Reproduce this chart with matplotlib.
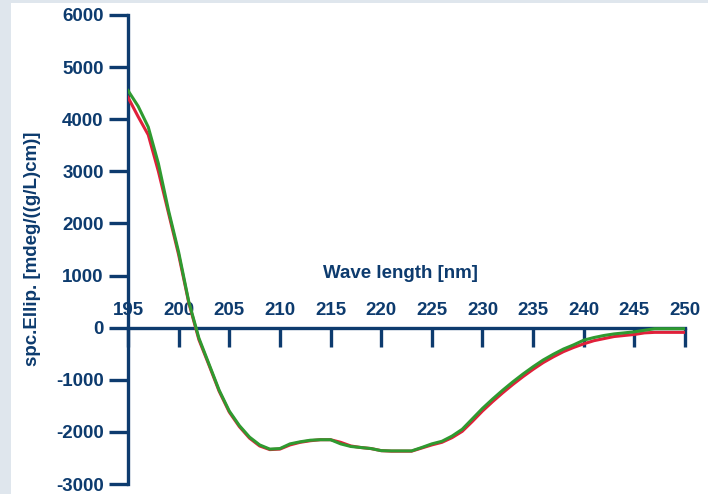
import numpy as np
import matplotlib.pyplot as plt
from matplotlib.patches import Rectangle

# wavelength grid (nm)
wavelength = list(range(195, 251))

# CD spectra, mdeg/((g/L)cm)
red_values = [4420, 4050, 3700, 3000, 2200, 1400, 480, -230, -720, -1220,
              -1620, -1900, -2120, -2270, -2340, -2330, -2250, -2200, -2170, -2150,
              -2150, -2200, -2270, -2300, -2320, -2360, -2370, -2370, -2370, -2310,
              -2250, -2200, -2110, -1990, -1800, -1600, -1420, -1250, -1090, -940,
              -800, -670, -560, -460, -380, -310, -250, -210, -170, -150,
              -130, -100, -90, -90, -90, -90]
green_values = [4550, 4250, 3850, 3150, 2250, 1450, 500, -200, -700, -1200,
                -1600, -1880, -2100, -2250, -2330, -2320, -2230, -2190, -2160, -2150,
                -2150, -2230, -2280, -2300, -2320, -2360, -2365, -2365, -2365, -2300,
                -2230, -2180, -2080, -1950, -1750, -1550, -1370, -1200, -1040, -890,
                -750, -620, -510, -410, -330, -240, -190, -150, -120, -100,
                -80, -50, -20, -20, -20, -20]

x_ticks = [195, 200, 205, 210, 215, 220, 225, 230, 235, 240, 245, 250]
y_ticks = [-3000, -2000, -1000, 0, 1000, 2000, 3000, 4000, 5000, 6000]

navy = "#0d3b6e"
plt.rcParams["font.family"] = ["Liberation Sans", "DejaVu Sans"]
plt.rcParams["font.weight"] = "bold"
plt.rcParams["axes.unicode_minus"] = False

fig = plt.figure(figsize=(7.08, 4.94), dpi=100)
fig.patch.set_facecolor("#dfe6ed")
fig.patches.append(Rectangle((11 / 708, 0), 1, 1 - 3 / 494, transform=fig.transFigure,
                             facecolor="white", edgecolor="none", zorder=-5))

ax = fig.add_axes([128 / 708, 10 / 494, 557 / 708, 469 / 494])
ax.set_facecolor("none")

ax.plot(wavelength, red_values, color="#e0203a", lw=2.2, zorder=3)
ax.plot(wavelength, green_values, color="#2f9a30", lw=2.2, zorder=4)

ax.set_xlim(195, 250)
ax.set_ylim(-3000, 6000)

for s in ["top", "right"]:
    ax.spines[s].set_visible(False)
ax.spines["left"].set_color(navy)
ax.spines["left"].set_linewidth(2.4)
ax.spines["bottom"].set_position(("data", 0))
ax.spines["bottom"].set_color(navy)
ax.spines["bottom"].set_linewidth(2.4)

ax.set_xticks(x_ticks)
ax.set_yticks(y_ticks)
ax.tick_params(axis="y", direction="out", length=14, width=2.4, color=navy,
               labelcolor=navy, labelsize=13.5, pad=3.5)
ax.tick_params(axis="x", direction="out", length=13.5, width=2.4, color=navy,
               labelcolor=navy, labelsize=13.5, pad=-32)
for lab in ax.get_xticklabels() + ax.get_yticklabels():
    lab.set_fontweight("bold")

fig.text(400 / 708, 1 - 273 / 494, "Wave length [nm]", color=navy, fontsize=13.5,
         fontweight="bold", ha="center", va="center")
fig.text(33 / 708, 1 - 249 / 494, "spc.Ellip. [mdeg/((g/L)cm)]", color=navy,
         fontsize=13.5, fontweight="bold", rotation=90, ha="center", va="center")

fig.savefig("out.png", dpi=100, facecolor=fig.get_facecolor())
